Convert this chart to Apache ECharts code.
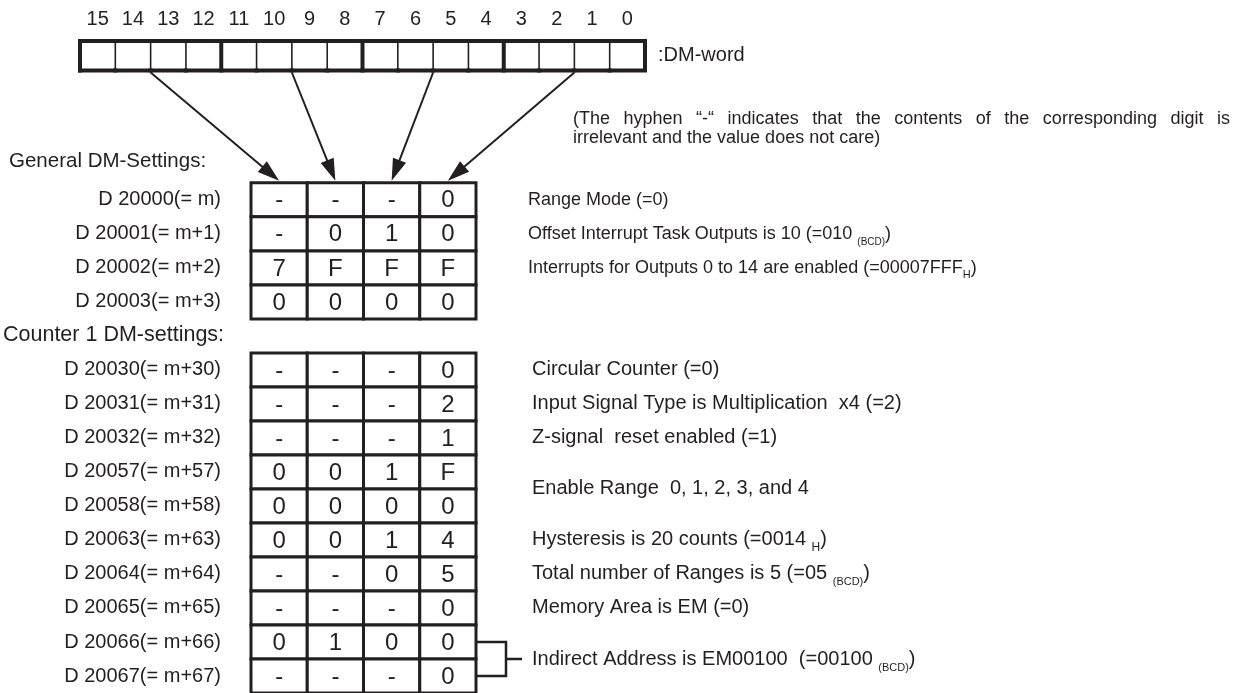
<!DOCTYPE html>
<html>
<head>
<meta charset="utf-8">
<script src="https://cdn.jsdelivr.net/npm/echarts@6/dist/echarts.min.js"></script>
<style>html,body{margin:0;padding:0;background:#ffffff}#c{width:1248px;height:693px}</style>
</head>
<body>
<div id="c"></div>
<script>
// ---------------- data ----------------
const bitLabels = ['15','14','13','12','11','10','9','8','7','6','5','4','3','2','1','0'];
const wordLabel = ':DM-word';
const digitColumns = ['digit3','digit2','digit1','digit0'];

const generalHeader = 'General DM-Settings:';
const generalRows = ['D 20000(= m)','D 20001(= m+1)','D 20002(= m+2)','D 20003(= m+3)'];
const generalDigits = [
  ['-','-','-','0'],
  ['-','0','1','0'],
  ['7','F','F','F'],
  ['0','0','0','0']
];

const counterHeader = 'Counter 1 DM-settings:';
const counterRows = ['D 20030(= m+30)','D 20031(= m+31)','D 20032(= m+32)','D 20057(= m+57)','D 20058(= m+58)',
                     'D 20063(= m+63)','D 20064(= m+64)','D 20065(= m+65)','D 20066(= m+66)','D 20067(= m+67)'];
const counterDigits = [
  ['-','-','-','0'],
  ['-','-','-','2'],
  ['-','-','-','1'],
  ['0','0','1','F'],
  ['0','0','0','0'],
  ['0','0','1','4'],
  ['-','-','0','5'],
  ['-','-','-','0'],
  ['0','1','0','0'],
  ['-','-','-','0']
];

const noteLine1 = ['(The', 'hyphen', '\u201c-\u201c', 'indicates', 'that', 'the', 'contents', 'of', 'the', 'corresponding', 'digit', 'is'];
const noteLine2 = 'irrelevant and the value does not care)';

// descriptions: first row, last row, main text, subscript, tail
const descFrom = ['D 20000(= m)','D 20001(= m+1)','D 20002(= m+2)','D 20030(= m+30)','D 20031(= m+31)','D 20032(= m+32)',
                  'D 20057(= m+57)','D 20063(= m+63)','D 20064(= m+64)','D 20065(= m+65)','D 20066(= m+66)'];
const descTo   = ['D 20000(= m)','D 20001(= m+1)','D 20002(= m+2)','D 20030(= m+30)','D 20031(= m+31)','D 20032(= m+32)',
                  'D 20058(= m+58)','D 20063(= m+63)','D 20064(= m+64)','D 20065(= m+65)','D 20067(= m+67)'];
const descMain = ['Range Mode (=0)',
                  'Offset Interrupt Task Outputs is 10 (=010 ',
                  'Interrupts for Outputs 0 to 14 are enabled (=00007FFF',
                  'Circular Counter (=0)',
                  'Input Signal Type is Multiplication  x4 (=2)',
                  'Z-signal  reset enabled (=1)',
                  'Enable Range  0, 1, 2, 3, and 4',
                  'Hysteresis is 20 counts (=0014 ',
                  'Total number of Ranges is 5 (=05 ',
                  'Memory Area is EM (=0)',
                  'Indirect Address is EM00100  (=00100 '];
const descSub  = ['', '(BCD)', 'H', '', '', '', '', 'H', '(BCD)', '', '(BCD)'];
const descTail = ['', ')', ')', '', '', '', '', ')', ')', '', ')'];

const bracketFrom = ['D 20066(= m+66)'];
const bracketTo   = ['D 20067(= m+67)'];

const arrowBits   = ['13','9','5','1'];
const arrowDigits = ['digit3','digit2','digit1','digit0'];

// ---------------- layout / style ----------------
const INK = '#231f20';
const FONT = '"Liberation Sans", Arial, Helvetica, sans-serif';
const WORD_GRID = {left: 80, top: 41, width: 565, height: 29.5};
const TABLE_GRID = {left: 250, top: 148.85, width: 226, height: 545.6};
const NOTE = {left: 573, top: 110, width: 657, fontSize: 18};

const rowLabels = [generalHeader].concat(generalRows, [counterHeader], counterRows);

// justified first line of the note
const measureCtx = document.createElement('canvas').getContext('2d');
measureCtx.font = NOTE.fontSize + 'px ' + FONT;
const wordsW = noteLine1.reduce((s, w) => s + measureCtx.measureText(w).width, 0);
const noteGap = (NOTE.width - wordsW) / (noteLine1.length - 1);
const noteRich = noteLine1.map(w => '{w|' + w + '}').join('{g| }') + '\n{w|' + noteLine2 + '}';

const wordData = bitLabels.map((b, i) => [i, 0]);

const cellData = [];
const cellText = [];
function addCells(rows, digits) {
  rows.forEach((r, i) => digits[i].forEach((d, j) => {
    cellData.push([j, rowLabels.indexOf(r)]);
    cellText.push(d);
  }));
}
addCells(generalRows, generalDigits);
addCells(counterRows, counterDigits);

const descData = descFrom.map((r, i) => [rowLabels.indexOf(r), rowLabels.indexOf(descTo[i])]);
const bracketData = bracketFrom.map((r, i) => [rowLabels.indexOf(r), rowLabels.indexOf(bracketTo[i])]);
const counterStart = rowLabels.indexOf(counterHeader);

function renderWordCell(params, api) {
  const i = api.value(0);
  const p = api.coord([i, 0]);
  const s = api.size([1, 1]);
  const x0 = p[0] - s[0] / 2, x1 = p[0] + s[0] / 2, y0 = p[1] - s[1] / 2, y1 = p[1] + s[1] / 2;
  const thickRight = (i === bitLabels.length - 1) || ((i + 1) % 4 === 0);
  const children = [
    {type: 'line', shape: {x1: x1, y1: y0, x2: x1, y2: y1}, style: {stroke: INK, lineWidth: thickRight ? 4 : 1.6}},
    {type: 'line', shape: {x1: x0 - 2, y1: y0, x2: x1 + 2, y2: y0}, style: {stroke: INK, lineWidth: 4}},
    {type: 'line', shape: {x1: x0 - 2, y1: y1, x2: x1 + 2, y2: y1}, style: {stroke: INK, lineWidth: 4}}
  ];
  if (i === 0) children.push({type: 'line', shape: {x1: x0, y1: y0 - 2, x2: x0, y2: y1 + 2}, style: {stroke: INK, lineWidth: 4}});
  return {type: 'group', children: children};
}

function renderCell(params, api) {
  const p = api.coord([api.value(0), api.value(1)]);
  const s = api.size([1, 1]);
  return {type: 'group', children: [
    {type: 'rect', shape: {x: p[0] - s[0] / 2, y: p[1] - s[1] / 2, width: s[0], height: s[1]},
     style: {fill: '#ffffff', stroke: INK, lineWidth: 3}},
    {type: 'text', style: {x: p[0], y: p[1] + 1, text: cellText[params.dataIndex], align: 'center', verticalAlign: 'middle',
     fontSize: 24, fontFamily: FONT, fill: INK}}
  ]};
}

function richFor(size) {
  return {
    t: {fontSize: size, fontFamily: FONT, fill: INK, lineHeight: size + 8},
    s: {fontSize: Math.round(size * 0.56), fontFamily: FONT, fill: INK, lineHeight: Math.round(size * 0.56), verticalAlign: 'bottom'},
    h: {fontSize: Math.round(size * 0.62), fontFamily: FONT, fill: INK, lineHeight: Math.round(size * 0.62), verticalAlign: 'bottom'}
  };
}
const richGeneral = richFor(18);
const richCounter = richFor(20);

function renderDesc(params, api) {
  const k = params.dataIndex;
  const r0 = api.value(0), r1 = api.value(1);
  const a = api.coord([digitColumns.length - 1, r0]);
  const b = api.coord([digitColumns.length - 1, r1]);
  const s = api.size([1, 1]);
  const isGeneral = r0 < counterStart;
  const gap = isGeneral ? 52 : 56;
  let txt = '{t|' + descMain[k] + '}';
  if (descSub[k]) txt += '{' + (descSub[k] === 'H' ? 'h' : 's') + '|' + descSub[k] + '}';
  if (descTail[k]) txt += '{t|' + descTail[k] + '}';
  return {type: 'text', style: {x: a[0] + s[0] / 2 + gap, y: (a[1] + b[1]) / 2, text: txt,
    rich: isGeneral ? richGeneral : richCounter,
    align: 'left', verticalAlign: 'middle', fontSize: isGeneral ? 18 : 20, fontFamily: FONT, fill: INK}};
}

function renderBracket(params, api) {
  const a = api.coord([digitColumns.length - 1, api.value(0)]);
  const b = api.coord([digitColumns.length - 1, api.value(1)]);
  const s = api.size([1, 1]);
  const xe = a[0] + s[0] / 2;
  const xb = xe + 30;
  const ym = (a[1] + b[1]) / 2;
  return {type: 'group', children: [
    {type: 'polyline', shape: {points: [[xe, a[1]], [xb, a[1]], [xb, b[1]], [xe, b[1]]]}, style: {stroke: INK, lineWidth: 2.5, fill: null}},
    {type: 'line', shape: {x1: xb, y1: ym, x2: xb + 16, y2: ym}, style: {stroke: INK, lineWidth: 2.5}}
  ]};
}

const option = {
  animation: false,
  backgroundColor: '#ffffff',
  title: {
    text: noteRich, left: NOTE.left, top: NOTE.top, padding: 0,
    textStyle: {fontSize: NOTE.fontSize, fontWeight: 'normal', lineHeight: 19, color: INK, fontFamily: FONT,
      rich: {
        w: {fontSize: NOTE.fontSize, fontWeight: 'normal', lineHeight: 19, color: INK, fontFamily: FONT},
        g: {fontSize: NOTE.fontSize, lineHeight: 19, width: noteGap, color: INK, fontFamily: FONT}
      }}
  },
  grid: [
    Object.assign({containLabel: false}, WORD_GRID),
    Object.assign({containLabel: false}, TABLE_GRID)
  ],
  xAxis: [
    {type: 'category', gridIndex: 0, data: bitLabels, position: 'top',
     axisLine: {show: false}, axisTick: {show: false}, splitLine: {show: false},
     axisLabel: {interval: 0, margin: 22, verticalAlign: 'middle', fontSize: 20, color: INK, fontFamily: FONT}},
    {type: 'category', gridIndex: 1, data: digitColumns, show: false}
  ],
  yAxis: [
    {type: 'category', gridIndex: 0, data: [wordLabel], position: 'right',
     axisLine: {show: false}, axisTick: {show: false}, splitLine: {show: false},
     axisLabel: {margin: 13, align: 'left', fontSize: 20, color: INK, fontFamily: FONT}},
    {type: 'category', gridIndex: 1, data: rowLabels, inverse: true,
     axisLine: {show: false}, axisTick: {show: false}, splitLine: {show: false},
     axisLabel: {interval: 0, margin: 30, fontSize: 20, color: INK, fontFamily: FONT,
       formatter: function (v) {
         if (v === generalHeader) return '{g|' + v + '}';
         if (v === counterHeader) return '{c|' + v + '}';
         return v;
       },
       rich: {
         g: {width: 212, align: 'left', padding: [0, 0, 10, 0], fontSize: 20.5, color: INK, fontFamily: FONT},
         c: {width: 218, align: 'left', padding: [0, 0, 2, 0], fontSize: 21.5, color: INK, fontFamily: FONT}
       }}}
  ],
  series: [
    {type: 'custom', xAxisIndex: 0, yAxisIndex: 0, data: wordData, renderItem: renderWordCell, silent: true},
    {type: 'custom', xAxisIndex: 1, yAxisIndex: 1, data: cellData, renderItem: renderCell, silent: true},
    {type: 'custom', xAxisIndex: 1, yAxisIndex: 1, data: descData, renderItem: renderDesc, silent: true, clip: false},
    {type: 'custom', xAxisIndex: 1, yAxisIndex: 1, data: bracketData, renderItem: renderBracket, silent: true, clip: false}
  ]
};

const chart = echarts.init(document.getElementById('c'), null, {renderer: 'canvas'});
chart.setOption(option);

// arrows: from bit boundaries of the DM-word to the digit columns of the table
const cellW = WORD_GRID.width / bitLabels.length;
const rowH = TABLE_GRID.height / rowLabels.length;
const wordBottom = chart.convertToPixel({yAxisIndex: 0}, wordLabel) + WORD_GRID.height / 2 + 2;
const tableTop = chart.convertToPixel({yAxisIndex: 1}, generalRows[0]) - rowH / 2 - 2;
const arrowGraphics = arrowBits.map((bit, i) => {
  const sx = chart.convertToPixel({xAxisIndex: 0}, bit) - cellW / 2;
  const sy = wordBottom;
  const ex = chart.convertToPixel({xAxisIndex: 1}, arrowDigits[i]);
  const ey = tableTop;
  const dx = ex - sx, dy = ey - sy, len = Math.sqrt(dx * dx + dy * dy);
  const ux = dx / len, uy = dy / len;
  const hl = 22, hw = 7;
  const bx = ex - ux * hl, by = ey - uy * hl;
  return {type: 'group', silent: true, children: [
    {type: 'line', shape: {x1: sx, y1: sy, x2: bx + ux * 2, y2: by + uy * 2}, style: {stroke: INK, lineWidth: 2}},
    {type: 'polygon', shape: {points: [[ex, ey], [bx - uy * hw, by + ux * hw], [bx + uy * hw, by - ux * hw]]}, style: {fill: INK}}
  ]};
});
chart.setOption({graphic: arrowGraphics});
</script>
</body>
</html>
